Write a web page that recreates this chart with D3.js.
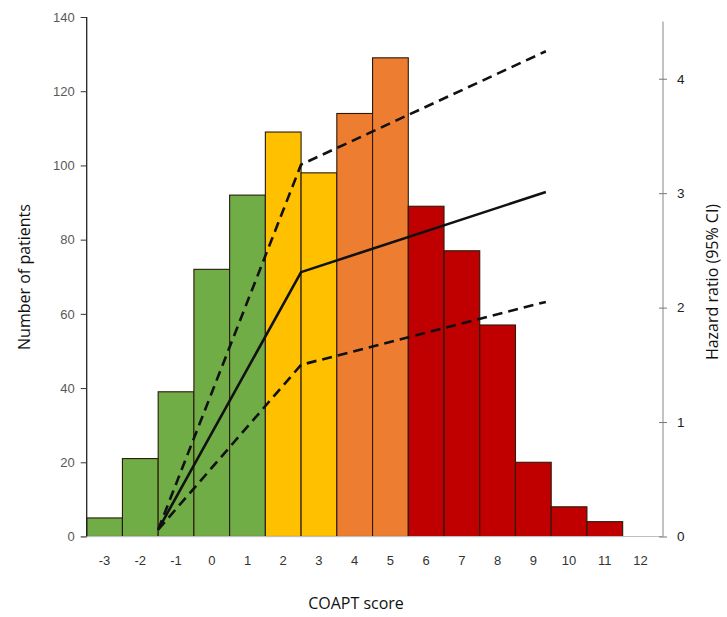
<!DOCTYPE html>
<html>
<head>
<meta charset="utf-8">
<script src="https://cdn.jsdelivr.net/npm/d3@7/dist/d3.min.js"></script>
<style>
  html, body { margin: 0; padding: 0; background: #fff; }
  svg { display: block; font-family: "Open Sans", "Liberation Sans", sans-serif; }
</style>
</head>
<body>
<svg id="chart" width="727" height="617"></svg>
<script>
// ---- data ----
const categories = [-3, -2, -1, 0, 1, 2, 3, 4, 5, 6, 7, 8, 9, 10, 11, 12];
const patients   = [5, 21, 39, 72, 92, 109, 98, 114, 129, 89, 77, 57, 20, 8, 4, 0];
const riskGroup  = ["low","low","low","low","low","mid","mid","high","high","vhigh","vhigh","vhigh","vhigh","vhigh","vhigh","vhigh"];
const groupColors = { low: "#70AD47", mid: "#FFC000", high: "#ED7D31", vhigh: "#C00000" };

const hrScore = [-1.5, 2.5, 9.35];
const hrEst   = [0.06, 2.31, 3.01];
const hrUpper = [0.06, 3.25, 4.24];
const hrLower = [0.06, 1.50, 2.05];

const leftTicks  = [0, 20, 40, 60, 80, 100, 120, 140];
const rightTicks = [0, 1, 2, 3, 4];

// ---- layout ----
const svg = d3.select("#chart");
const plotL = 86.7, plotR = 658.4, rightAxisX = 663, baseY = 536.5;

const x = d3.scaleBand().domain(categories).range([plotL, plotR]).padding(0);
const xLin = d3.scaleLinear().domain([-3.5, 12.5]).range([plotL, plotR]);
const yL = d3.scaleLinear().domain([0, 140]).range([baseY, 17]);
const yR = d3.scaleLinear().domain([0, 4.5]).range([baseY, 21.5]);

// bars
svg.append("g").selectAll("rect")
  .data(categories.map((c, i) => ({ c, v: patients[i], g: riskGroup[i] })).filter(d => d.v > 0))
  .join("rect")
  .attr("x", d => x(d.c))
  .attr("y", d => yL(d.v))
  .attr("width", x.bandwidth())
  .attr("height", d => yL(0) - yL(d.v))
  .attr("fill", d => groupColors[d.g])
  .attr("stroke", "#2a1a0a")
  .attr("stroke-width", 1.1);

// x axis (line + labels, no ticks)
svg.append("line")
  .attr("x1", plotL - 6).attr("x2", rightAxisX)
  .attr("y1", baseY).attr("y2", baseY)
  .attr("stroke", "#bfbfbf").attr("stroke-width", 1.2);
const xAxis = d3.axisBottom(x).tickSize(0).tickPadding(19);
const gx = svg.append("g").attr("transform", `translate(0,${baseY})`).call(xAxis);
gx.select(".domain").remove();
gx.selectAll("text").attr("font-size", 13).attr("fill", "#333");

// left axis
const gl = svg.append("g").attr("transform", `translate(${plotL},0)`)
  .call(d3.axisLeft(yL).tickValues(leftTicks).tickSize(6).tickPadding(6));
gl.select(".domain").attr("stroke", "#222").attr("stroke-width", 1.3).attr("d", `M0,${yL(140)}V${baseY}`);
gl.selectAll(".tick line").attr("stroke", "#333");
gl.selectAll("text").attr("font-size", 13).attr("fill", "#595959");

// right axis
const gr = svg.append("g").attr("transform", `translate(${rightAxisX},0)`)
  .call(d3.axisRight(yR).tickValues(rightTicks).tickFormat(d3.format("d")).tickSize(4).tickPadding(10));
gr.select(".domain").attr("stroke", "#9a9a9a").attr("stroke-width", 1.2).attr("d", `M0,${yR(4.5)}V${baseY}`);
gr.selectAll(".tick line").attr("stroke", "#777").attr("x1", -4);
gr.selectAll("text").attr("font-size", 13.5).attr("fill", "#222");

// hazard ratio lines
const line = d3.line().x(d => xLin(d[0])).y(d => yR(d[1]));
const mk = arr => hrScore.map((s, i) => [s, arr[i]]);
svg.append("path").attr("d", line(mk(hrEst)))
  .attr("fill", "none").attr("stroke", "#111").attr("stroke-width", 2.6).attr("stroke-linejoin", "round");
[hrUpper, hrLower].forEach(arr => {
  svg.append("path").attr("d", line(mk(arr)))
    .attr("fill", "none").attr("stroke", "#111").attr("stroke-width", 2.6)
    .attr("stroke-dasharray", "10,6").attr("stroke-linejoin", "round");
});

// axis titles
svg.append("text").attr("transform", "translate(30,277) rotate(-90)")
  .attr("text-anchor", "middle").attr("font-size", 16).attr("fill", "#111")
  .text("Number of patients");
svg.append("text").attr("transform", "translate(718,282) rotate(-90)")
  .attr("text-anchor", "middle").attr("font-size", 16).attr("fill", "#111")
  .text("Hazard ratio (95% CI)");
svg.append("text").attr("x", 356).attr("y", 609)
  .attr("text-anchor", "middle").attr("font-size", 16).attr("fill", "#111")
  .text("COAPT score");
</script>
</body>
</html>
